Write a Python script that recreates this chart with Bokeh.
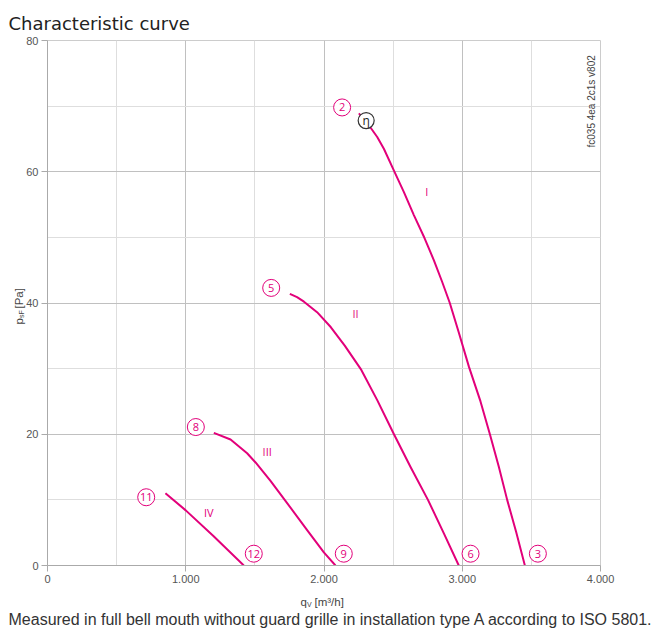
import math
from bokeh.plotting import figure
from bokeh.models import Range1d, FixedTicker
from bokeh.embed import file_html
from bokeh.resources import INLINE
from bokeh.core.properties import value

# ---- axis ticks ----
x_ticks = [0, 1000, 2000, 3000, 4000]
x_tick_labels = ["0", "1.000", "2.000", "3.000", "4.000"]
x_minor = [500, 1500, 2500, 3500]
y_ticks = [0, 20, 40, 60, 80]
y_minor = [10, 30, 50, 70]

# ---- characteristic curves (q_V in m3/h, p_sF in Pa) ----
curve_I_q = [2252, 2300, 2331, 2385, 2433, 2505, 2578, 2650, 2727, 2795, 2855, 2910,
             2975, 3048, 3132, 3200, 3265, 3325, 3390, 3453]
curve_I_p = [68.9, 67.8, 66.9, 65.3, 63.5, 60.2, 56.9, 53.4, 49.9, 46.5, 43.2, 40.0,
             35.5, 30.3, 25.0, 20.0, 15.0, 10.0, 5.1, 0.0]

curve_II_q = [1753, 1805, 1855, 1950, 2050, 2150, 2270, 2385, 2506, 2626, 2752, 2867, 2975]
curve_II_p = [41.4, 40.9, 40.2, 38.6, 36.3, 33.5, 29.8, 25.2, 20.0, 15.0, 10.0, 4.9, 0.0]

curve_III_q = [1203, 1324, 1444, 1505, 1613, 1709, 1878, 1999, 2083]
curve_III_p = [20.2, 19.2, 17.1, 15.7, 12.9, 10.2, 5.4, 2.0, 0.0]

curve_IV_q = [853, 1000, 1200, 1420]
curve_IV_p = [11.0, 8.4, 4.5, 0.0]

# ---- operating point markers ----
num_labels = ["2", "5", "8", "11", "12", "9", "6", "3"]
num_q = [2131, 1618, 1073, 714, 1492, 2143, 3060, 3547]
num_p = [69.8, 42.3, 21.1, 10.4, 1.8, 1.8, 1.8, 1.8]

roman_labels = ["I", "II", "III", "IV"]
roman_q = [2744, 2228, 1589, 1167]
roman_p = [57.0, 38.4, 17.3, 8.1]

eta_q = [2305]
eta_p = [67.8]

title_text = "Characteristic curve"
footnote_text = "Measured in full bell mouth without guard grille in installation type A according to ISO 5801."
code_text = "fc035 4ea 2c1s v802"

MAG = "#e2007a"
FONT = "Liberation Sans"
GREY = "#444444"

# frame geometry in pixels (used only to place the free texts)
FL, FR, FT, FB = 47, 600, 40, 565
def qx(px):
    return (px - FL) / (FR - FL) * 4000
def py(pxv):
    return (FB - pxv) / (FB - FT) * 80

p = figure(width=659, height=634, output_backend="svg", toolbar_location=None,
           x_range=Range1d(0, 4000), y_range=Range1d(0, 80),
           min_border_left=FL, min_border_right=659 - FR, min_border_top=FT,
           min_border_bottom=634 - FB,
           background_fill_color="white", border_fill_color="white")
p.outline_line_color = "#cccccc"

xt = FixedTicker(ticks=x_ticks, minor_ticks=x_minor)
yt = FixedTicker(ticks=y_ticks, minor_ticks=y_minor)
p.xaxis.ticker = xt
p.yaxis.ticker = yt
p.xgrid.ticker = xt
p.ygrid.ticker = yt
p.xaxis.major_label_overrides = dict(zip(x_ticks, x_tick_labels))
for ax in (p.xaxis, p.yaxis):
    ax.axis_line_color = "#aaaaaa"
    ax.major_tick_line_color = "#aaaaaa"
    ax.major_tick_in = 0
    ax.major_tick_out = 6
    ax.minor_tick_line_color = None
    ax.major_label_text_font = FONT
    ax.major_label_text_font_size = "11px"
    ax.major_label_text_color = "#555555"
p.xaxis.major_label_standoff = 3
p.yaxis.major_label_standoff = 3
for g in (p.xgrid, p.ygrid):
    g.grid_line_color = "#c0c0c0"
    g.minor_grid_line_color = "#dedede"

for qs, ps in ((curve_I_q, curve_I_p), (curve_II_q, curve_II_p),
               (curve_III_q, curve_III_p), (curve_IV_q, curve_IV_p)):
    p.line(qs, ps, line_color=MAG, line_width=2, line_join="round")

p.scatter(num_q, num_p, marker="circle", size=17, fill_color="white",
          line_color=MAG, line_width=1)
p.text(num_q, num_p, text=num_labels, text_align="center", text_baseline="middle",
       text_color=MAG, text_font=value("Open Sans"), text_font_size="11px")
p.text(roman_q, roman_p, text=roman_labels, text_align="center", text_baseline="middle",
       text_color=MAG, text_font=value("Open Sans"), text_font_size="11px")

p.scatter(eta_q, eta_p, marker="circle", size=16, fill_color="white",
          line_color="#333333", line_width=1.2)
p.text(eta_q, eta_p, text=["η"], text_align="center", text_baseline="middle",
       text_color="#222222", text_font=value("Open Sans"), text_font_size="12px")

# vertical drawing code at the right
p.text([qx(591)], [py(147)], text=[code_text], angle=math.pi / 2,
       text_align="left", text_baseline="middle", text_color=GREY,
       text_font=value(FONT), text_font_size="10px")

# free texts outside the frame (overlay level is not clipped)
def free_text(px_, py_, s, size, angle=0.0, font=FONT, color=GREY):
    p.text([qx(px_)], [py(py_)], text=[s], angle=angle, text_align="left",
           text_baseline="alphabetic", text_color=color, text_font=value(font),
           text_font_size=size, level="overlay")

free_text(8, 23, title_text, "18px", font="DejaVu Sans", color="#222222")
free_text(8, 619, footnote_text, "16px", color="#333333")

free_text(300, 601, "q", "11.5px")
free_text(306.5, 604, "V", "7px")
free_text(314, 601, "[m³/h]", "11.5px")
free_text(18, 324, "p", "11.5px", math.pi / 2)
free_text(21, 317.5, "sF", "7px", math.pi / 2)
free_text(18, 308, "[Pa]", "11.5px", math.pi / 2)

open("out.html", "w").write(file_html(p, INLINE))
